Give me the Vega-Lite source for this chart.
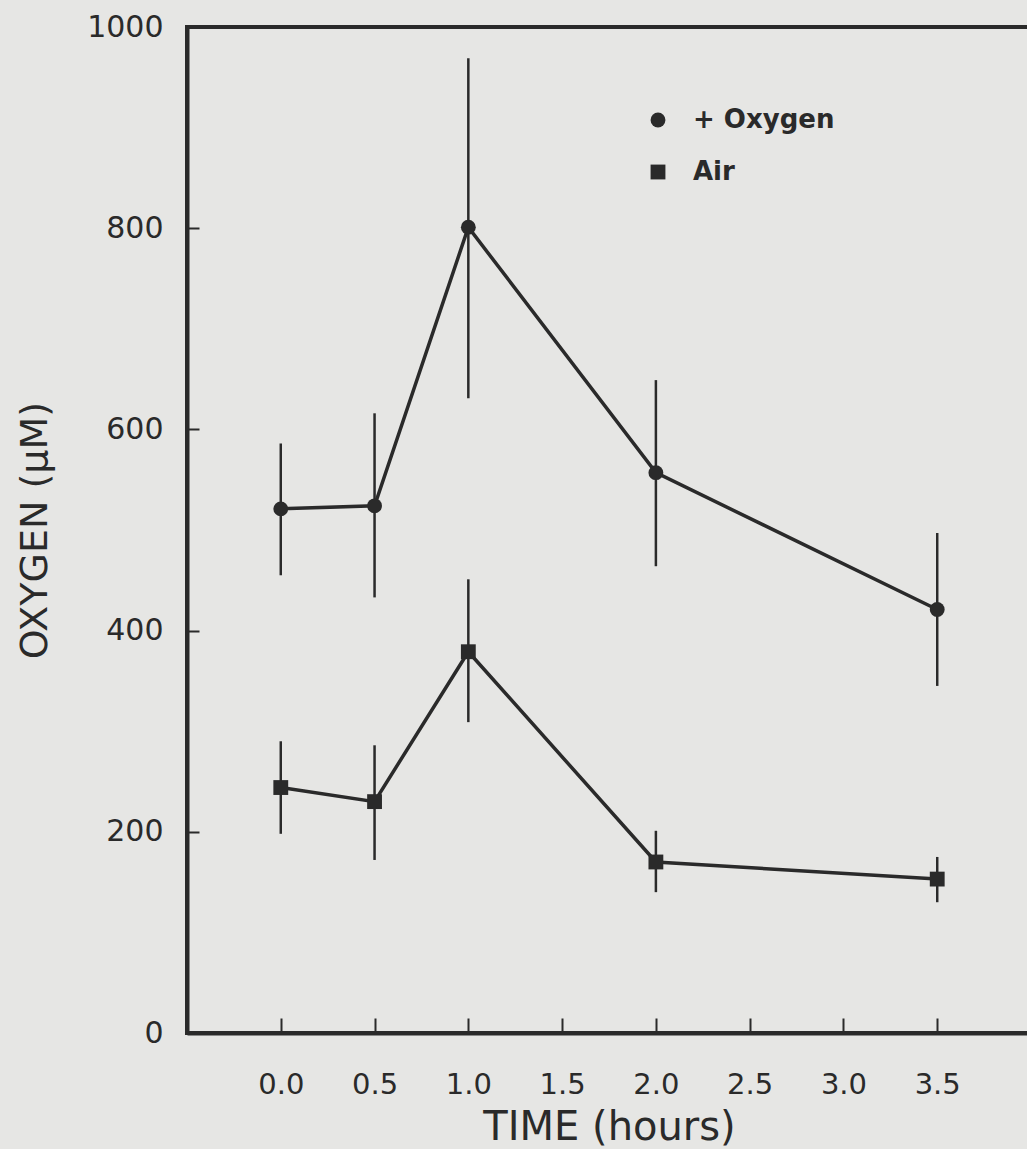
{
  "$schema": "https://vega.github.io/schema/vega-lite/v6.json",
  "autosize": "none",
  "width": 844,
  "height": 1006,
  "padding": {"left": 187, "top": 27, "right": 0, "bottom": 116},
  "background": "#e6e6e4",
  "config": {
    "view": {"stroke": "#2a2a2a", "strokeWidth": 4},
    "font": "DejaVu Sans"
  },
  "data": {
    "values": [
      {"series": "+ Oxygen", "time": 0.0, "o2": 521, "lo": 455, "hi": 586},
      {"series": "+ Oxygen", "time": 0.5, "o2": 524, "lo": 433, "hi": 616},
      {"series": "+ Oxygen", "time": 1.0, "o2": 801, "lo": 631, "hi": 969},
      {"series": "+ Oxygen", "time": 2.0, "o2": 557, "lo": 464, "hi": 649},
      {"series": "+ Oxygen", "time": 3.5, "o2": 421, "lo": 345, "hi": 497},
      {"series": "Air", "time": 0.0, "o2": 244, "lo": 198, "hi": 290},
      {"series": "Air", "time": 0.5, "o2": 230, "lo": 172, "hi": 286},
      {"series": "Air", "time": 1.0, "o2": 379, "lo": 309, "hi": 451},
      {"series": "Air", "time": 2.0, "o2": 170, "lo": 140, "hi": 201},
      {"series": "Air", "time": 3.5, "o2": 153, "lo": 130, "hi": 175}
    ]
  },
  "encoding": {
    "x": {
      "field": "time", "type": "quantitative",
      "scale": {"domain": [-0.5, 4.0], "nice": false, "zero": false},
      "axis": {
        "values": [0, 0.5, 1, 1.5, 2, 2.5, 3, 3.5],
        "format": ".1f",
        "title": "TIME (hours)",
        "grid": false,
        "domainColor": "#2a2a2a", "domainWidth": 4,
        "tickColor": "#2a2a2a", "tickWidth": 2, "tickSize": -15,
        "labelFontSize": 29, "labelColor": "#2a2a2a", "labelPadding": 52,
        "titleFontSize": 40, "titleFontWeight": "normal", "titleColor": "#2a2a2a", "titlePadding": 8
      }
    },
    "y": {
      "field": "o2", "type": "quantitative",
      "scale": {"domain": [0, 1000], "nice": false},
      "axis": {
        "values": [0, 200, 400, 600, 800, 1000],
        "format": "d",
        "title": "OXYGEN (μM)",
        "grid": false,
        "domainColor": "#2a2a2a", "domainWidth": 4,
        "tickColor": "#2a2a2a", "tickWidth": 2, "tickSize": -12,
        "labelFontSize": 30, "labelColor": "#2a2a2a", "labelPadding": 36,
        "titleFontSize": 38, "titleFontWeight": "normal", "titleColor": "#2a2a2a", "titlePadding": 32
      }
    }
  },
  "layer": [
    {
      "mark": {"type": "rule", "color": "#2a2a2a", "strokeWidth": 2.5},
      "encoding": {
        "y": {"field": "lo", "type": "quantitative"},
        "y2": {"field": "hi"},
        "detail": {"field": "series"}
      }
    },
    {
      "mark": {"type": "line", "color": "#2a2a2a", "strokeWidth": 3.5},
      "encoding": {"detail": {"field": "series"}}
    },
    {
      "mark": {"type": "point", "filled": true, "opacity": 1, "color": "#2a2a2a", "size": 220},
      "encoding": {
        "shape": {
          "field": "series", "type": "nominal",
          "scale": {"domain": ["+ Oxygen", "Air"], "range": ["circle", "square"]},
          "legend": {
            "title": null,
            "orient": "none",
            "legendX": 458,
            "legendY": 80,
            "labelFontSize": 26,
            "labelColor": "#2a2a2a",
            "labelFontWeight": "bold",
            "symbolSize": 220,
            "symbolFillColor": "#2a2a2a",
            "symbolStrokeColor": "#2a2a2a",
            "rowPadding": 26,
            "labelOffset": 22
          }
        }
      }
    }
  ]
}
